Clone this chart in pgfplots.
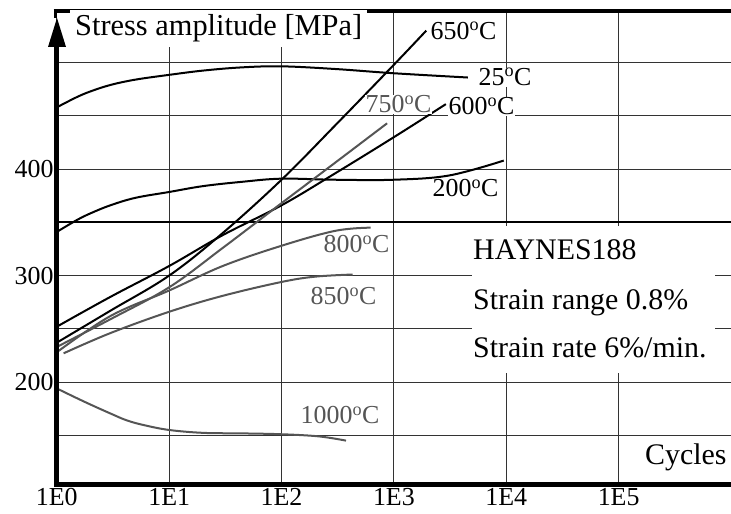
\documentclass[border=0pt]{standalone}
\usepackage{pgfplots}
\pgfplotsset{compat=1.18}
\usepackage{fontspec}
\setmainfont{Liberation Serif}
\usetikzlibrary{arrows.meta}

\definecolor{curvegray}{HTML}{555555}
\newcommand{\degC}{\textsuperscript{o}C}
\tikzset{curve/.style={smooth, tension=0.6, line width=2bp, no marks}}

\begin{document}
\begin{tikzpicture}
\useasboundingbox (0bp,0bp) rectangle (731bp,514bp);
\begin{axis}[
  at={(56.8bp,29.5bp)}, anchor=south west,
  scale only axis, width=674.2bp, height=473bp,
  xmode=log, xmin=1, xmax=1e6, ymin=103.8, ymax=548,
  axis x line=bottom, axis y line=left,
  axis line style={draw=none, -},
  xminorticks=false, major tick length=0,
  xtick={1,10,100,1000,10000,100000},
  xticklabels={1E0,1E1,1E2,1E3,1E4,1E5},
  ytick={150,200,250,300,400,450,500},
  yticklabels={,200,,300,400,,},
  extra y ticks={350}, extra y tick labels={},
  extra y tick style={major grid style={line width=2.2bp, black}},
  grid=major,
  major grid style={line width=0.9bp, black!80},
  ticklabel style={font=\fontsize{26}{30}\selectfont},
  yticklabel style={inner xsep=3bp},
]
% 25 C
\addplot[curve, black] coordinates {(1,458) (1.5,467.5) (2,473) (3,479) (5,484) (10,488.5) (20,492.5) (44,495.5) (100,496.5) (300,494) (1000,490) (4550,486)};
% 200 C
\addplot[curve, black] coordinates {(1,341) (1.5,352) (2,358.5) (3,366) (5,373) (10,378.5) (20,384) (44,388) (100,391) (300,390) (1000,390) (3100,394) (9500,408)};
% 650 C
\addplot[curve, black] coordinates {(1,237) (3,267) (10,300) (30,340) (100,390) (300,441) (1000,498) (1940,530)};
% 600 C
\addplot[curve, black] coordinates {(1,252) (3,280) (10,309) (30,338) (100,366) (300,396) (1000,430) (2900,461)};
% 750 C
\addplot[curve, curvegray] coordinates {(1,233) (3,259) (10,289) (30,326) (100,368) (300,406) (870,443)};
% 800 C
\addplot[curve, curvegray] coordinates {(1,228) (3,262) (10,286) (30,309) (100,328) (300,342) (620,345)};
% 850 C
\addplot[curve, curvegray] coordinates {(1.15,227) (3,246) (10,266) (30,281) (100,294) (200,299) (430,301)};
% 1000 C
\addplot[curve, curvegray] coordinates {(1,194) (1.5,185) (2.08,178) (3,170.5) (4.2,164) (6,159.5) (10,155) (20,152.3) (44,151.8) (100,151) (214,149) (375,145)};
\end{axis}
% frame: bottom line, left line with arrow, top line
\draw[line width=5bp] (54bp,29.5bp) -- (731bp,29.5bp);
\draw[line width=4.8bp] (56.6bp,27bp) -- (56.6bp,470bp);
\fill (48bp,467bp) -- (57bp,496bp) -- (66bp,467bp) -- cycle;
\draw[line width=3bp] (55bp,496bp) -- (55bp,503bp);
\draw[line width=4bp] (53.5bp,502.5bp) -- (731bp,502.5bp);

\node[anchor=base west, fill=white, inner xsep=5bp, inner ysep=4.5bp, font=\fontsize{30.5}{34}\selectfont] at (70bp,478bp) {Stress amplitude [MPa]};

\begin{scope}[every node/.style={anchor=base west, inner sep=0.5bp, font=\fontsize{26}{30}\selectfont}]
\node[black] at (430bp,474bp) {650\degC};
\node[black, fill=white] at (478bp,428bp) {25\degC};
\node[curvegray, fill=white] at (365bp,401bp) {750\degC};
\node[black, fill=white] at (448bp,399bp) {600\degC};
\node[black] at (432bp,317bp) {200\degC};
\node[curvegray] at (323bp,261bp) {800\degC};
\node[curvegray] at (310bp,209bp) {850\degC};
\node[curvegray] at (300bp,90bp) {1000\degC};
\end{scope}

\fill[white] (472bp,141bp) rectangle (715bp,288bp);
\begin{scope}[every node/.style={anchor=base west, inner sep=0pt, font=\fontsize{30}{34}\selectfont}]
\node at (473bp,254bp) {HAYNES188};
\node at (473bp,204bp) {Strain range 0.8\%};
\node at (473bp,156bp) {Strain rate 6\%/min.};
\node at (645bp,49bp) {Cycles};
\end{scope}
\end{tikzpicture}
\end{document}
